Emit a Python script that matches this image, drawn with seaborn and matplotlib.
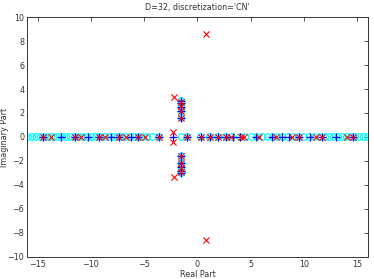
import numpy as np
import pandas as pd
import matplotlib
matplotlib.use("Agg")
import matplotlib.pyplot as plt
import seaborn as sns

# reference eigenvalues (cyan circles)
ref_re = [-15.9, -15.5, -15.1, -14.7, -14.3, -13.9, -13.5, -13.1, -12.7, -12.3,
          -11.9, -11.5, -11.1, -10.7, -10.3, -9.9, -9.5, -9.1, -8.7, -8.3,
          -7.9, -7.5, -7.1, -6.7, -6.3, -5.9, -5.5, -5.1, -4.7, -4.2,
          -3.6, -1.5, -0.94, 0.3, 1.15, 1.93, 2.65, 3.2, 4.0, 4.5,
          5.1, 5.6, 6.1, 6.6, 7.1, 7.5, 8.0, 8.5, 9.0, 9.5,
          10.0, 10.5, 11.0, 11.5, 12.0, 12.4, 12.8, 13.2, 13.6, 14.0,
          14.4, 14.8, 15.2, 15.6, 16.0,
          -1.5, -1.5, -1.5, -1.5, -1.5, -1.5, -1.5, -1.5, -1.5, -1.5]
ref_im = [0.0] * 65 + [1.6, 2.2, 2.5, 2.8, 3.0, -1.6, -2.2, -2.5, -2.8, -3.0]

# first discretization (blue +)
d1_re = [-14.5, -12.8, -11.5, -10.3, -9.25, -8.1, -7.35, -6.2, -5.57, -3.6,
         -2.34, -0.94, 0.3, 1.15, 1.93, 2.65, 3.3, 4.0, 5.5, 7.0,
         7.9, 8.6, 9.5, 10.6, 11.7, 13.0, 14.6,
         -1.5, -1.5, -1.5, -1.5, -1.5, -1.5, -1.5, -1.5, -1.5, -1.5]
d1_im = [0.0] * 27 + [1.6, 2.2, 2.5, 2.8, 3.0, -1.6, -2.2, -2.5, -2.8, -3.0]

# second discretization (red x)
d2_re = [-14.5, -13.7, -11.5, -10.9, -9.25, -8.7, -7.35, -6.7, -5.57, -4.88,
         -3.6, -0.94, 0.3, 1.15, 1.93, 2.65, 3.1, 4.1, 4.4, 5.8,
         7.4, 8.9, 9.5, 11.15, 11.7, 14.0, 14.6,
         -2.3, -2.3, -2.2, -2.2, 0.84, 0.84,
         -1.5, -1.5, -1.5, -1.5, -1.5, -1.5, -1.5, -1.5]
d2_im = [0.0] * 27 + [0.4, -0.4, 3.3, -3.3, 8.56, -8.56,
                      1.6, 2.2, 2.6, 2.9, -1.6, -2.2, -2.6, -2.9]

x_ticks = [-15, -10, -5, 0, 5, 10, 15]
y_ticks = [-10, -8, -6, -4, -2, 0, 2, 4, 6, 8, 10]

sns.set_style("white")
plt.rcParams['font.family'] = ['DejaVu Sans']

fig = plt.figure(figsize=(3.74, 2.79), dpi=100)
ax = fig.add_axes([0.072, 0.079, 0.912, 0.860])

ref = pd.DataFrame({"re": ref_re, "im": ref_im})
d1 = pd.DataFrame({"re": d1_re, "im": d1_im})
d2 = pd.DataFrame({"re": d2_re, "im": d2_im})

sns.scatterplot(data=ref, x="re", y="im", ax=ax, marker="o", s=22,
                facecolor="none", edgecolor="#00ffff", linewidth=0.9, zorder=2)
sns.scatterplot(data=d1, x="re", y="im", ax=ax, marker="+", s=30,
                color="#0000ff", linewidth=0.9, zorder=3)
sns.scatterplot(data=d2, x="re", y="im", ax=ax, marker="x", s=20,
                color="#ff0000", linewidth=0.8, zorder=4)

ax.set_xlim(-16, 16)
ax.set_ylim(-10, 10)
ax.set_xticks(x_ticks)
ax.set_yticks(y_ticks)
ax.set_xticklabels([str(t).replace('-', '\u2212') for t in x_ticks])
ax.set_yticklabels([str(t).replace('-', '\u2212') for t in y_ticks])
ax.tick_params(direction="in", length=3, width=0.6, labelsize=5.8,
               top=True, right=True, colors="#333333", pad=2)
for s in ax.spines.values():
    s.set_linewidth(0.7)
    s.set_color("#333333")
    s.set_visible(True)
ax.set_xlabel("Real Part", fontsize=5.8, labelpad=1, color="#333333")
ax.set_ylabel("Imaginary Part", fontsize=5.8, color="#333333")
ax.yaxis.set_label_coords(-0.052, 0.5)
ax.set_title("D=32, discretization='CN'", fontsize=5.8, pad=5, color="#333333")

fig.savefig("out.png", dpi=100)
